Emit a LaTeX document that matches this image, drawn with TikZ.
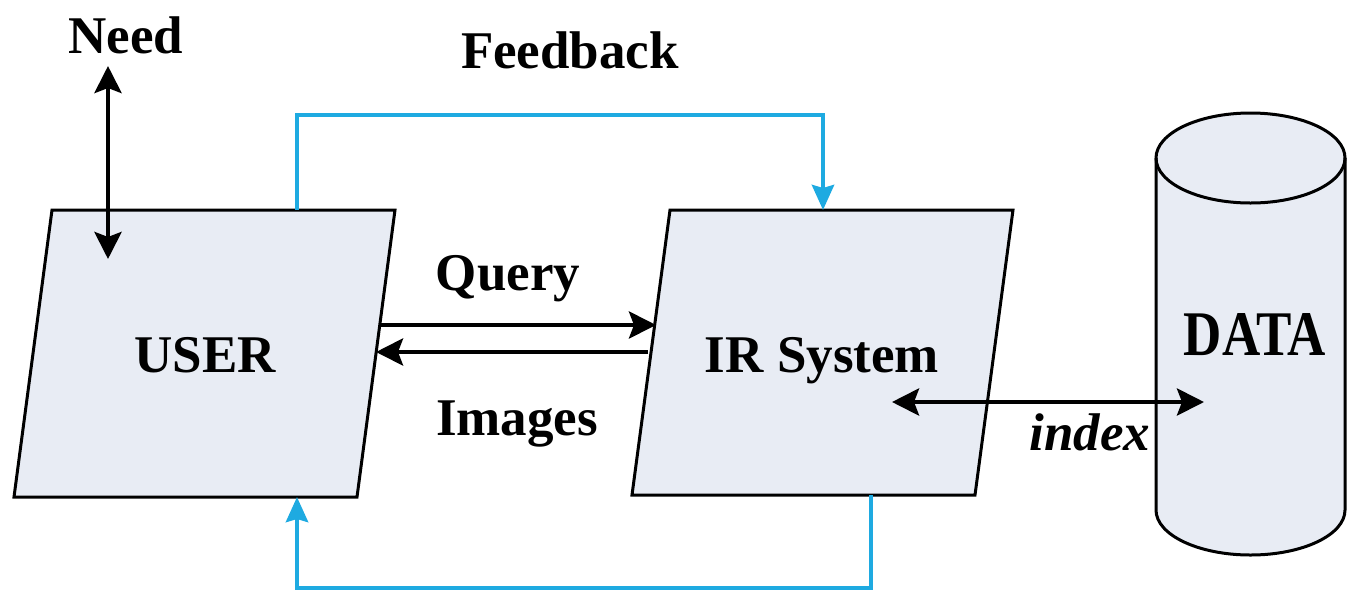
\documentclass[tikz,border=0pt]{standalone}
\usepackage{fontspec}
\setmainfont{Liberation Serif}
\usepackage{graphicx}
\usetikzlibrary{arrows.meta}
\definecolor{boxfill}{RGB}{232,236,244}
\definecolor{fbblue}{RGB}{30,170,225}
\begin{document}
\begin{tikzpicture}[x=1pt,y=-1pt,
  box/.style={draw=black, line width=3pt, fill=boxfill, line join=miter},
  lbl/.style={font=\fontsize{53}{60}\selectfont\bfseries, inner sep=0pt, anchor=base},
  tip/.style={},
  arr/.style={line width=4.5pt, -{Stealth[length=27pt,width=27pt,inset=5pt]}},
  darr/.style={line width=4.5pt, {Stealth[length=27pt,width=27pt,inset=5pt]}-{Stealth[length=27pt,width=27pt,inset=5pt]}},
  fbarr/.style={draw=fbblue, line width=4.5pt, line join=miter, -{Stealth[length=25pt,width=22pt,inset=3pt]}}]
\useasboundingbox (0,0) rectangle (1348,590);

% USER box
\draw[box] (52,210) -- (395,210) -- (357,497) -- (14,497) -- cycle;
% IR box
\draw[box] (670,210) -- (1013,210) -- (975,495) -- (632,495) -- cycle;

% DATA cylinder
\fill[boxfill] (1156,158) -- (1156,510)
  .. controls (1156,534.85) and (1198.31,555) .. (1250.5,555)
  .. controls (1302.69,555) and (1345,534.85) .. (1345,510)
  -- (1345,158) -- cycle;
\filldraw[fill=boxfill, draw=black, line width=3pt] (1250.5,158) ellipse [x radius=94.5, y radius=45];
\draw[line width=3pt] (1156,158) -- (1156,510)
  .. controls (1156,534.85) and (1198.31,555) .. (1250.5,555)
  .. controls (1302.69,555) and (1345,534.85) .. (1345,510)
  -- (1345,158);

% labels
\node[lbl] (user) at (205,372) {USER};
\node[lbl] (ir) at (822,372) {IR System};
\node[lbl] (data) at (1255,355) {\scalebox{1}[1.2]{DATA}};
\node[lbl] (need) at (126,53) {Need};
\node[lbl] (feedback) at (570,68) {Feedback};
\node[lbl] (query) at (508,290) {Query};
\node[lbl] (images) at (517,435) {Images};
\node[lbl, font=\fontsize{53}{60}\selectfont\bfseries\itshape] (index) at (1090,450) {index};

% connector end points
\coordinate (needT) at (108,66);
\coordinate (needB) at (108,259);
\coordinate (uQ) at (380,325);
\coordinate (irQ) at (656,325);
\coordinate (irI) at (648,352);
\coordinate (uI) at (376,352);
\coordinate (irX) at (892,402);
\coordinate (dX) at (1204,402);
\coordinate (uTop) at (297,210);
\coordinate (irTop) at (823,210);
\coordinate (irBot) at (871,495);
\coordinate (uBot) at (297,497);

% black arrows
\draw[darr] (needT) -- (needB);
\draw[arr] (uQ) -- (irQ);
\draw[arr] (irI) -- (uI);
\draw[darr] (irX) -- (dX);

% feedback loops
\draw[fbarr] (uTop) -- (297,115) -| (irTop);
\draw[fbarr] (irBot) -- (871,588) -| (uBot);
\end{tikzpicture}
\end{document}
